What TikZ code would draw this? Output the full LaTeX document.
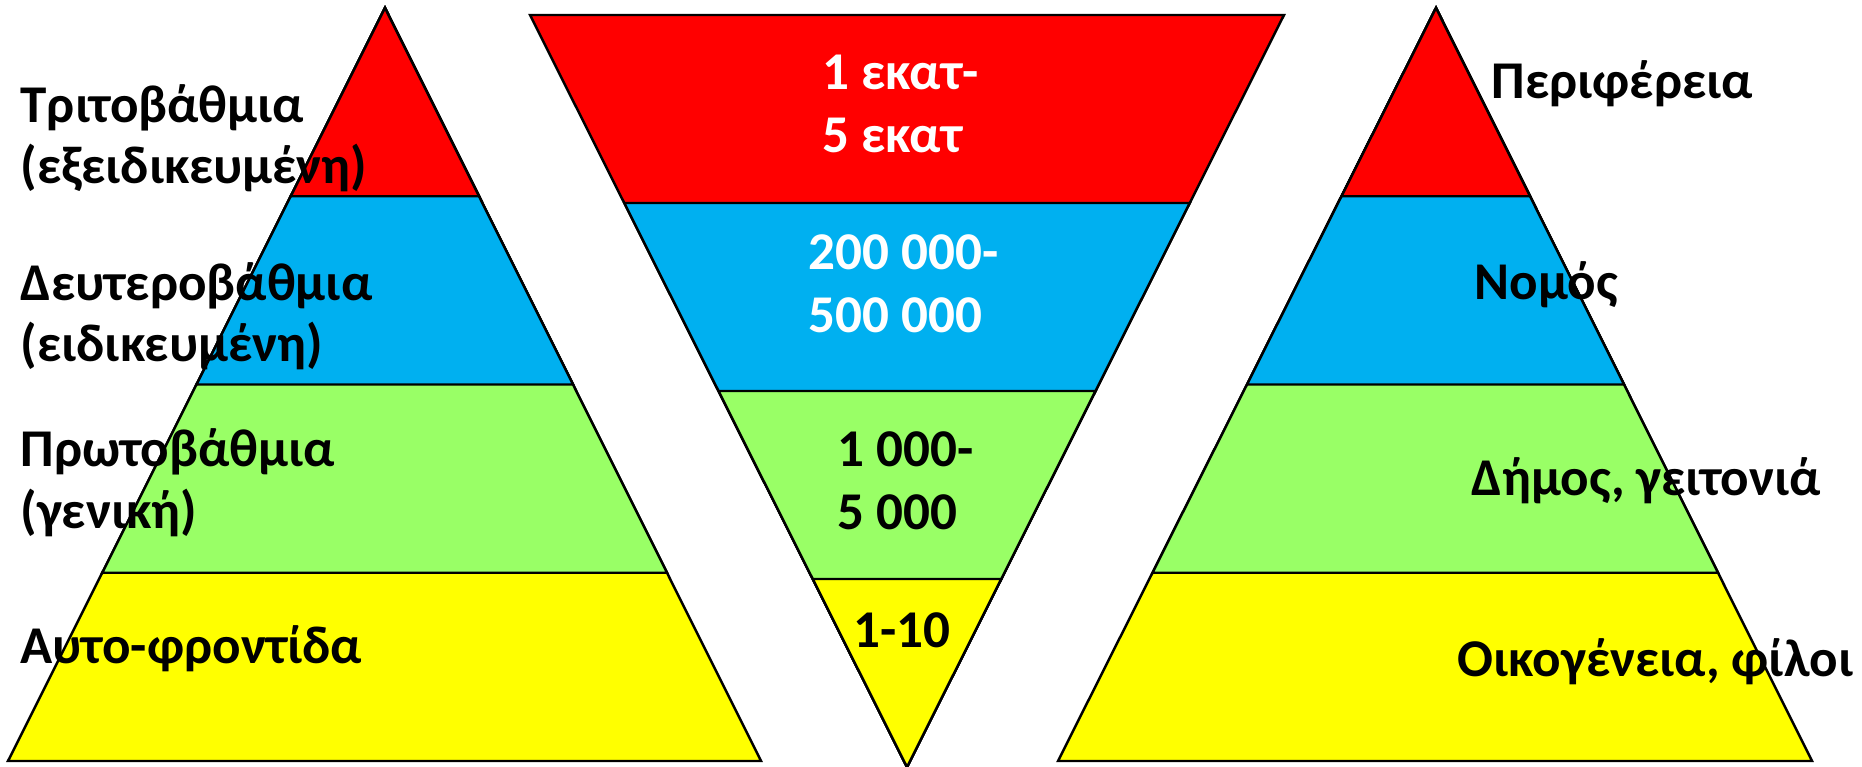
\documentclass[tikz,border=0pt]{standalone}
\usepackage{fontspec}
\setmainfont{Carlito}
\usepackage{xcolor}
\usepackage{tikz}
\usetikzlibrary{calc}
\definecolor{PyrRed}{HTML}{FF0000}
\definecolor{PyrBlue}{HTML}{00B0F0}
\definecolor{PyrGreen}{HTML}{99FF66}
\definecolor{PyrYellow}{HTML}{FFFF00}

\begin{document}
\begin{tikzpicture}[
  x=0.01cm, y=-0.01cm,
  layer/.style={draw=black, line width=0.7pt, line join=miter},
  levtext/.style={font=\fontsize{15.1}{17.6}\selectfont\bfseries, inner sep=0pt, align=left, anchor=base west},
  numtext/.style={levtext, font=\fontsize{15.1}{18.1}\selectfont\bfseries}
]
  \useasboundingbox (0,0) rectangle (1862,767);

  % care levels
  \coordinate (lTop) at (385,8);
  \coordinate (lBL) at (8,761);
  \coordinate (lBR) at (761,761);
  \draw[layer, fill=PyrYellow] (lTop) -- (lBR) -- (lBL) -- cycle;
  \draw[layer, fill=PyrGreen] (lTop) -- ($(lTop)!0.75!(lBR)$) -- ($(lTop)!0.75!(lBL)$) -- cycle;
  \draw[layer, fill=PyrBlue] (lTop) -- ($(lTop)!0.5!(lBR)$) -- ($(lTop)!0.5!(lBL)$) -- cycle;
  \draw[layer, fill=PyrRed] (lTop) -- ($(lTop)!0.25!(lBR)$) -- ($(lTop)!0.25!(lBL)$) -- cycle;

  % population served
  \coordinate (mTL) at (530,15);
  \coordinate (mTR) at (1284,15);
  \coordinate (mBot) at (907,767);
  \draw[layer, fill=PyrRed] (mBot) -- (mTR) -- (mTL) -- cycle;
  \draw[layer, fill=PyrBlue] (mBot) -- ($(mBot)!0.75!(mTR)$) -- ($(mBot)!0.75!(mTL)$) -- cycle;
  \draw[layer, fill=PyrGreen] (mBot) -- ($(mBot)!0.5!(mTR)$) -- ($(mBot)!0.5!(mTL)$) -- cycle;
  \draw[layer, fill=PyrYellow] (mBot) -- ($(mBot)!0.25!(mTR)$) -- ($(mBot)!0.25!(mTL)$) -- cycle;

  % administrative levels
  \coordinate (rTop) at (1436,8);
  \coordinate (rBL) at (1058,761);
  \coordinate (rBR) at (1812,761);
  \draw[layer, fill=PyrYellow] (rTop) -- (rBR) -- (rBL) -- cycle;
  \draw[layer, fill=PyrGreen] (rTop) -- ($(rTop)!0.75!(rBR)$) -- ($(rTop)!0.75!(rBL)$) -- cycle;
  \draw[layer, fill=PyrBlue] (rTop) -- ($(rTop)!0.5!(rBR)$) -- ($(rTop)!0.5!(rBL)$) -- cycle;
  \draw[layer, fill=PyrRed] (rTop) -- ($(rTop)!0.25!(rBR)$) -- ($(rTop)!0.25!(rBL)$) -- cycle;

  % anchors sit on the last line
  \node[levtext] (tert) at (20,184) {Τριτοβάθμια\\(εξειδικευμένη)};
  \node[levtext] (sec) at (20,362) {Δευτεροβάθμια\\(ειδικευμένη)};
  \node[levtext] (prim) at (20,528) {Πρωτοβάθμια\\(γενική)};
  \node[levtext] (self) at (20,663) {Αυτο-φροντίδα};

  \node[numtext, text=white] (popA) at (822,153) {1 εκατ-\\5 εκατ};
  \node[numtext, text=white] (popB) at (808,333) {200 000-\\500 000};
  \node[numtext] (popC) at (837,530) {1 000-\\5 000};
  \node[numtext] (popD) at (853,647) {1-10};

  \node[levtext] (region) at (1491,99) {Περιφέρεια};
  \node[levtext] (prefecture) at (1474,300) {Νομός};
  \node[levtext] (municipality) at (1471,495) {Δήμος, γειτονιά};
  \node[levtext] (family) at (1457,677) {Οικογένεια, φίλοι};
\end{tikzpicture}
\end{document}
